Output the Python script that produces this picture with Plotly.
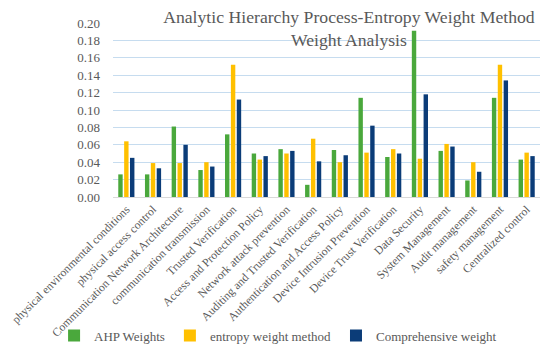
import plotly.graph_objects as go

categories = [
    "physical environmental conditions",
    "physical access control",
    "Communication Network Architecture",
    "communication transmission",
    "Trusted Verification",
    "Access and Protection Policy",
    "Network attack prevention",
    "Auditing and Trusted Verification",
    "Authentication and Access Policy",
    "Device Intrusion Prevention",
    "Device Trust Verification",
    "Data Security",
    "System Management",
    "Audit management",
    "safety management",
    "Centralized control",
]

ahp_weights = [0.026, 0.026, 0.081, 0.031, 0.072, 0.050, 0.055, 0.014, 0.054,
               0.114, 0.046, 0.191, 0.053, 0.019, 0.114, 0.043]
entropy_weights = [0.064, 0.039, 0.039, 0.040, 0.152, 0.043, 0.050, 0.067, 0.040,
                   0.051, 0.055, 0.044, 0.061, 0.040, 0.152, 0.051]
comprehensive_weights = [0.045, 0.033, 0.060, 0.035, 0.112, 0.047, 0.053, 0.041, 0.048,
                         0.082, 0.050, 0.118, 0.058, 0.029, 0.134, 0.047]

series_names = ["AHP Weights", "entropy weight method", "Comprehensive weight"]
colors = ["#4aa83c", "#ffc000", "#0b3c78"]
tick_vals = [0.00, 0.02, 0.04, 0.06, 0.08, 0.10, 0.12, 0.14, 0.16, 0.18, 0.20]
tick_text = ["0.00", "0.02", "0.04", "0.06", "0.08", "0.10", "0.12", "0.14", "0.16", "0.18", "0.20"]

serif = "Liberation Serif"
gray = "#595959"

fig = go.Figure()
for name, vals, c in zip(series_names, [ahp_weights, entropy_weights, comprehensive_weights], colors):
    fig.add_trace(go.Bar(x=categories, y=vals, name=name, marker=dict(color=c, line=dict(width=0))))

fig.update_layout(
    width=542, height=351,
    margin=dict(l=105, r=10, t=15, b=162, autoexpand=False),
    paper_bgcolor="white", plot_bgcolor="white",
    barmode="group", bargap=0.34, bargroupgap=0.25,
    font=dict(family=serif, color=gray),
    title=dict(
        text="Analytic Hierarchy Process-Entropy Weight Method<br>Weight Analysis",
        xref="container", x=0.629, xanchor="center",
        yref="container", y=0.958, yanchor="top",
        font=dict(family=serif, size=17.7, color=gray),
    ),
    legend=dict(
        orientation="h", xref="paper", x=-0.138, xanchor="left",
        yref="paper", y=-0.796, yanchor="middle",
        bgcolor="rgba(0,0,0,0)",
        font=dict(family=serif, size=13, color=gray),
        tracegroupgap=0,
    ),
    showlegend=True,
)
fig.update_xaxes(
    tickangle=-45, tickfont=dict(family=serif, size=11.7, color=gray),
    showgrid=False, showline=True, linecolor="#d9d9d9", linewidth=1,
    ticks="", automargin=False,
)
fig.update_yaxes(
    range=[0, 0.2], tickvals=tick_vals, ticktext=tick_text,
    tickfont=dict(family=serif, size=13, color=gray),
    showgrid=True, gridcolor="#c6dcef", gridwidth=1,
    zeroline=False, showline=False, ticks="", ticklabelstandoff=12,
    automargin=False,
)

fig.write_html("out.html")
